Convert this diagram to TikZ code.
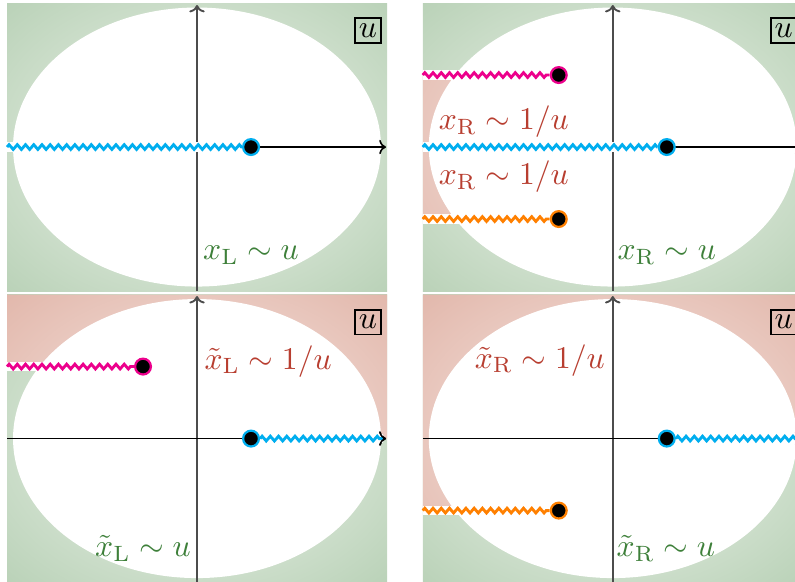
\documentclass[tikz,border=0pt]{standalone}
\usepackage{amsmath,amssymb}
\usetikzlibrary{arrows.meta,decorations.pathmorphing,positioning}
\definecolor{cutcyan}{RGB}{0,174,239}
\definecolor{cutpink}{RGB}{236,0,140}
\definecolor{cutorange}{RGB}{255,128,0}
\definecolor{labred}{RGB}{184,62,48}
\definecolor{labgreen}{RGB}{62,128,58}
\definecolor{bggreen}{RGB}{186,210,184}
\definecolor{bggreenlt}{RGB}{240,245,238}
\definecolor{bgred}{RGB}{226,184,172}
\definecolor{bgredlt}{RGB}{248,234,230}

\begin{document}
\begin{tikzpicture}[>={To[scale=0.8]},
    cut/.style={decorate,decoration={zigzag,segment length=2.6pt,amplitude=0.75pt},line width=0.9pt},
    cutback/.style={white,line width=3pt},
    bpoint/.style={circle,fill=black,draw=#1,line width=0.7pt,inner sep=0pt,minimum size=5pt},
    uplane/.style={draw,line width=0.5pt,inner sep=0pt,minimum width=8.2pt,minimum height=7.8pt},
    greenbg/.style={inner color=bggreenlt,outer color=bggreen},
    redbg/.style={inner color=bgredlt,outer color=bgred},
    haxis/.style={->,line width=0.5pt},
    vaxis/.style={->,black!70,line width=0.6pt}]

  \useasboundingbox (0,0) rectangle (8.833,6.456);

  % x_L sheet
  \begin{scope}[shift={(2.189,4.822)}]
    \begin{scope}
      \clip (-2.111,-1.6) rectangle (2.111,1.6);
      \shade[greenbg] (-2.986,-2.263) rectangle (2.986,2.263);
    \end{scope}
    \fill[white] (0,0) ellipse [x radius=2.044,y radius=1.55];
    \coordinate (s1) at (0,-1.6);
    \coordinate (n1) at (0,1.578);
    \coordinate (w1) at (-2.111,0);
    \coordinate (e1) at (2.1,0);
    \draw[vaxis] (s1) -- (n1);
    \draw[haxis] (w1) -- (e1);
    \node[bpoint=cutcyan] (c1) at (0.6,0) {};
    \draw[cutback] (w1) -- (c1);
    \draw[cut,cutcyan] (w1) -- (c1);
    \node[text=labgreen] (g1) at (0.6,-1.2) {$x_{\mathrm{L}}\sim u$};
    \node[uplane] (u1) at (1.9,1.294) {$u$};
  \end{scope}

  % x_R sheet
  \begin{scope}[shift={(6.808,4.822)}]
    \begin{scope}
      \clip (-2.111,-1.6) rectangle (2.111,1.6);
      \shade[greenbg] (-2.986,-2.263) rectangle (2.986,2.263);
    \end{scope}
    \begin{scope}
      \clip (-2.111,-0.8) rectangle (0,0.8);
      \shade[redbg] (-2.986,-2.263) rectangle (2.986,2.263);
    \end{scope}
    \fill[white] (0,0) ellipse [x radius=2.044,y radius=1.55];
    \coordinate (s2) at (0,-1.6);
    \coordinate (n2) at (0,1.578);
    \coordinate (w2) at (-2.111,0);
    \coordinate (e2) at (2.1,0);
    \coordinate (wp2) at (-2.111,0.8);
    \coordinate (wo2) at (-2.111,-0.8);
    \draw[vaxis] (s2) -- (n2);
    \draw[haxis] (w2) -- (e2);
    \node[bpoint=cutcyan] (c2) at (0.6,0) {};
    \node[bpoint=cutpink] (p2) at (-0.6,0.8) {};
    \node[bpoint=cutorange] (o2) at (-0.6,-0.8) {};
    \draw[cutback] (w2) -- (c2);
    \draw[cutback] (wp2) -- (p2);
    \draw[cutback] (wo2) -- (o2);
    \draw[cut,cutcyan] (w2) -- (c2);
    \draw[cut,cutpink] (wp2) -- (p2);
    \draw[cut,cutorange] (wo2) -- (o2);
    \node[text=labred] (r2a) at (-1.21,0.28) {$x_{\mathrm{R}}\sim 1/u$};
    \node[text=labred] (r2b) at (-1.21,-0.33) {$x_{\mathrm{R}}\sim 1/u$};
    \node[text=labgreen] (g2) at (0.6,-1.2) {$x_{\mathrm{R}}\sim u$};
    \node[uplane] (u2) at (1.9,1.294) {$u$};
  \end{scope}

  % tilde x_L sheet
  \begin{scope}[shift={(2.189,1.583)}]
    \begin{scope}
      \clip (-2.111,-1.6) rectangle (2.111,1.6);
      \shade[greenbg] (-2.986,-2.263) rectangle (2.986,2.263);
    \end{scope}
    \begin{scope}
      \clip (-2.111,1.6) -- (2.111,1.6) -- (2.111,0) -- (0,0) -- (0,0.8) -- (-2.111,0.8) -- cycle;
      \shade[redbg] (-2.986,-2.263) rectangle (2.986,2.263);
    \end{scope}
    \fill[white] (0,0) ellipse [x radius=2.044,y radius=1.55];
    \coordinate (s3) at (0,-1.6);
    \coordinate (n3) at (0,1.583);
    \coordinate (w3) at (-2.111,0);
    \coordinate (e3) at (2.1,0);
    \coordinate (ec3) at (2.07,0);
    \coordinate (wp3) at (-2.111,0.8);
    \draw[vaxis] (s3) -- (n3);
    \draw[haxis] (w3) -- (e3);
    \node[bpoint=cutcyan] (c3) at (0.6,0) {};
    \node[bpoint=cutpink] (p3) at (-0.6,0.8) {};
    \draw[cutback] (c3) -- (ec3);
    \draw[cutback] (wp3) -- (p3);
    \draw[cut,cutcyan] (c3) -- (ec3);
    \draw[cut,cutpink] (wp3) -- (p3);
    \draw[->,line width=0.5pt] (ec3) -- (e3);
    \node[text=labred] (r3) at (0.79,0.86) {$\tilde{x}_{\mathrm{L}}\sim 1/u$};
    \node[text=labgreen] (g3) at (-0.6,-1.22) {$\tilde{x}_{\mathrm{L}}\sim u$};
    \node[uplane] (u3) at (1.9,1.294) {$u$};
  \end{scope}

  % tilde x_R sheet
  \begin{scope}[shift={(6.808,1.583)}]
    \begin{scope}
      \clip (-2.111,-1.6) rectangle (2.111,1.6);
      \shade[greenbg] (-2.986,-2.263) rectangle (2.986,2.263);
    \end{scope}
    \begin{scope}
      \clip (-2.111,1.6) -- (2.111,1.6) -- (2.111,0) -- (0,0) -- (0,-0.8) -- (-2.111,-0.8) -- cycle;
      \shade[redbg] (-2.986,-2.263) rectangle (2.986,2.263);
    \end{scope}
    \fill[white] (0,0) ellipse [x radius=2.044,y radius=1.55];
    \coordinate (s4) at (0,-1.6);
    \coordinate (n4) at (0,1.583);
    \coordinate (w4) at (-2.111,0);
    \coordinate (e4) at (2.1,0);
    \coordinate (ec4) at (2.07,0);
    \coordinate (wo4) at (-2.111,-0.8);
    \draw[vaxis] (s4) -- (n4);
    \draw[haxis] (w4) -- (e4);
    \node[bpoint=cutcyan] (c4) at (0.6,0) {};
    \node[bpoint=cutorange] (o4) at (-0.6,-0.8) {};
    \draw[cutback] (c4) -- (ec4);
    \draw[cutback] (wo4) -- (o4);
    \draw[cut,cutcyan] (c4) -- (ec4);
    \draw[cut,cutorange] (wo4) -- (o4);
    \node[text=labred] (r4) at (-0.81,0.87) {$\tilde{x}_{\mathrm{R}}\sim 1/u$};
    \node[text=labgreen] (g4) at (0.59,-1.22) {$\tilde{x}_{\mathrm{R}}\sim u$};
    \node[uplane] (u4) at (1.9,1.294) {$u$};
  \end{scope}
\end{tikzpicture}
\end{document}
